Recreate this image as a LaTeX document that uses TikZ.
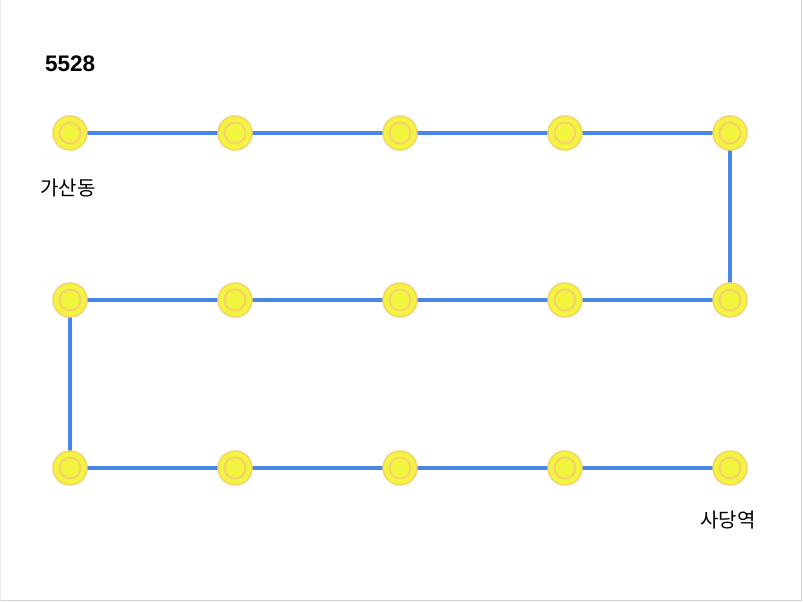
\documentclass[tikz,border=0pt]{standalone}
\usepackage{fontspec}
\setmainfont{Liberation Sans}
\newfontfamily\kr{Noto Sans CJK KR}
\definecolor{routeblue}{HTML}{4A86E8}
\definecolor{stopfill}{HTML}{F2F53E}
\definecolor{stopring}{HTML}{F9D06E}
\definecolor{framegray}{HTML}{D0D0D0}
\begin{document}
\begin{tikzpicture}[x=1pt,y=-1pt]
    \tikzstyle{route}=[draw=routeblue,line width=3.5pt]
    \tikzstyle{stop}=[draw=stopring,fill=stopfill,circle,line width=1.5pt,minimum size=34pt,inner sep=0pt,
      path picture={\draw[stopring,line width=2pt] (path picture bounding box.center) circle (10.5pt);}]
    \tikzstyle{stn}=[font=\kr\fontsize{20}{22}\selectfont,inner sep=0pt]
    \useasboundingbox (0,0) rectangle (803,602);
    \fill[white] (0,0) rectangle (803,602);
    \draw[framegray,line width=1.5pt] (801.5,0) -- (801.5,600.5) -- (0,600.5);
    \draw[framegray!40,line width=1pt] (0.5,0) -- (0.5,600.5);
    \node[anchor=base west,font=\bfseries\fontsize{22.5}{26}\selectfont,inner sep=0pt] (title) at (45,72) {5528};
    % stops
    \foreach \r/\y in {1/133,2/300,3/468}
      \foreach \c/\x in {1/70,2/235,3/400,4/565,5/730}
        \coordinate (p\r\c) at (\x,\y);
    \draw[route] (p11) -- (p15) -- (p25) -- (p21) -- (p31) -- (p35);
    \foreach \r in {1,2,3}
      \foreach \c in {1,2,3,4,5}
        \node[stop] (s\r\c) at (p\r\c) {};
    \node[stn] (gasan) at (68,188) {가산동};
    \node[stn] (sadang) at (728,520) {사당역};
\end{tikzpicture}
\end{document}
